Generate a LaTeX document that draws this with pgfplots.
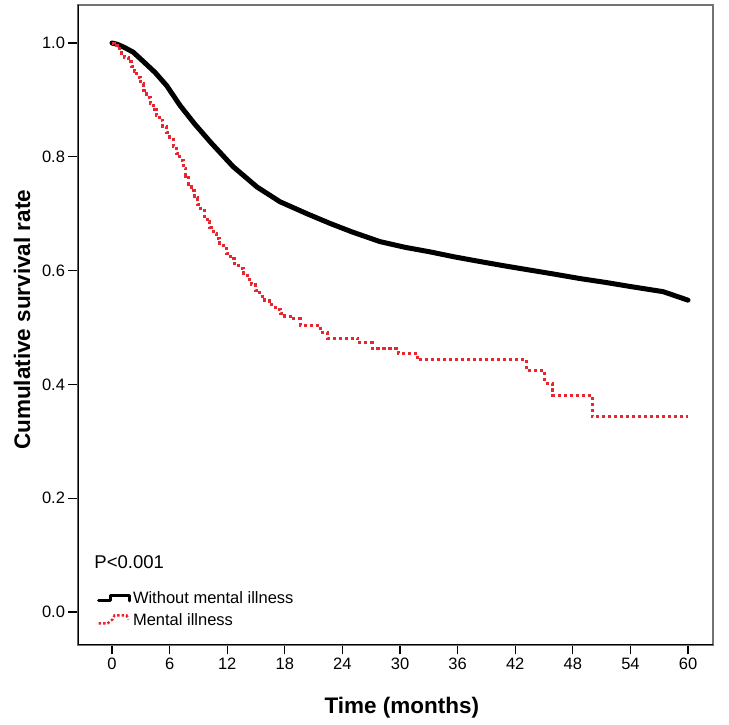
\documentclass[border=0pt]{standalone}
\usepackage{fontspec}
\setmainfont{Liberation Sans}
\usepackage{pgfplots}
\pgfplotsset{compat=1.18}
\definecolor{kmred}{RGB}{232,38,48}

\begin{document}
\begin{tikzpicture}
\path[use as bounding box] (-78pt,-80pt) rectangle (651pt,645pt);
\begin{axis}[
  at={(0pt,0pt)}, anchor=south west,
  scale only axis, width=635pt, height=640pt,
  xmin=-3.54, xmax=62.6, ymin=-0.058, ymax=1.0668,
  xtick={0,6,12,18,24,30,36,42,48,54,60},
  ytick={0,0.2,0.4,0.6,0.8,1},
  tick align=outside, major tick length=9.5pt,
  xtick pos=bottom, ytick pos=left,
  tick style={black, line width=1.3pt},
  axis line style={black!55, line width=1.2pt},
  yticklabel style={/pgf/number format/.cd, fixed, fixed zerofill, precision=1},
  /pgf/number format/assume math mode=true,
  ticklabel style={font=\fontsize{16.5}{19}\selectfont},
  xlabel={Time (months)}, ylabel={Cumulative survival rate},
  label style={font=\fontsize{22.5}{26}\selectfont\bfseries},
  xlabel style={at={(axis description cs:0.510,-0.0984)}, anchor=center},
  ylabel style={at={(axis description cs:-0.0882,0.508)}, anchor=center},
  legend style={at={(axis cs:-1.56,0.040)}, anchor=north west, draw=none, fill=none,
    inner sep=0pt, outer sep=0pt, row sep=5pt,
    font=\fontsize{16.5}{19}\selectfont, cells={anchor=west},
    /tikz/every even column/.append style={column sep=0pt}},
  legend cell align=left,
]
\addplot[black, line width=5pt, line join=round, line cap=round,
  legend image code/.code={\draw[black,line width=3pt] (0pt,-3pt) -- (12pt,-3pt) -- (12pt,2.5pt) -- (31pt,2.5pt) -- (31pt,-3pt);}]
coordinates {
(0,1.000) (0.5,0.998) (1.2,0.993) (2.2,0.984) (3.3,0.967) (4.5,0.948) (5.7,0.925)
(7.1,0.890) (8.6,0.858) (10.3,0.825) (12.6,0.783) (15.1,0.747) (17.5,0.721)
(20.3,0.700) (22.7,0.683) (25,0.668) (27.9,0.651) (30.5,0.641) (33.1,0.633)
(35.7,0.624) (38.3,0.616) (41,0.608) (43.5,0.601) (46,0.594) (48.75,0.586)
(51.5,0.579) (54,0.572) (57.4,0.563) (60,0.548)
};
\addlegendentry{Without mental illness}
\addplot[kmred, line width=3pt, dash pattern=on 3.2pt off 2.8pt, const plot,
  legend image code/.code={\draw[kmred,line width=2.4pt,dash pattern=on 2.5pt off 2pt] (0pt,-3pt) -- (9pt,-3pt) -- (14pt,1pt) -- (16pt,5pt) -- (28pt,5pt) -- (30pt,1pt);}]
coordinates {
(0,1.000) (0.3,0.995) (0.6,0.990) (1.0,0.982) (1.3,0.975) (1.7,0.967) (2.0,0.959)
(2.3,0.950) (2.6,0.940) (3.0,0.928) (3.3,0.917) (3.6,0.905) (3.96,0.894) (4.3,0.883)
(4.6,0.873) (4.9,0.864) (5.3,0.853) (5.7,0.842) (6.0,0.831) (6.4,0.818) (6.7,0.806)
(7.08,0.794) (7.4,0.780) (7.7,0.766) (8.0,0.752) (8.3,0.740) (8.6,0.728) (8.9,0.717)
(9.2,0.706) (9.6,0.695) (9.9,0.686) (10.2,0.676) (10.55,0.666) (10.9,0.657) (11.2,0.648)
(11.6,0.639) (11.9,0.630) (12.3,0.621) (12.8,0.612) (13.2,0.604) (13.7,0.595) (14.1,0.585)
(14.5,0.575) (14.9,0.565) (15.4,0.555) (15.9,0.547) (16.4,0.540) (17.0,0.532) (17.5,0.525)
(18.0,0.520) (18.6,0.515) (19.6,0.504) (21.7,0.492) (22.4,0.481) (25.6,0.473) (27.1,0.463)
(29.8,0.455) (31.8,0.443) (43.2,0.424) (45.1,0.402) (45.9,0.381) (50.0,0.343) (60,0.343)
};
\addlegendentry{Mental illness}
\draw[black, line width=1.5pt] (rel axis cs:0,1) -- (rel axis cs:0,0) -- (rel axis cs:1,0);
\node[anchor=base west, font=\fontsize{18.5}{22}\selectfont] at (axis cs:-2.19,0.0773) {P<0.001};
\end{axis}
\end{tikzpicture}
\end{document}
